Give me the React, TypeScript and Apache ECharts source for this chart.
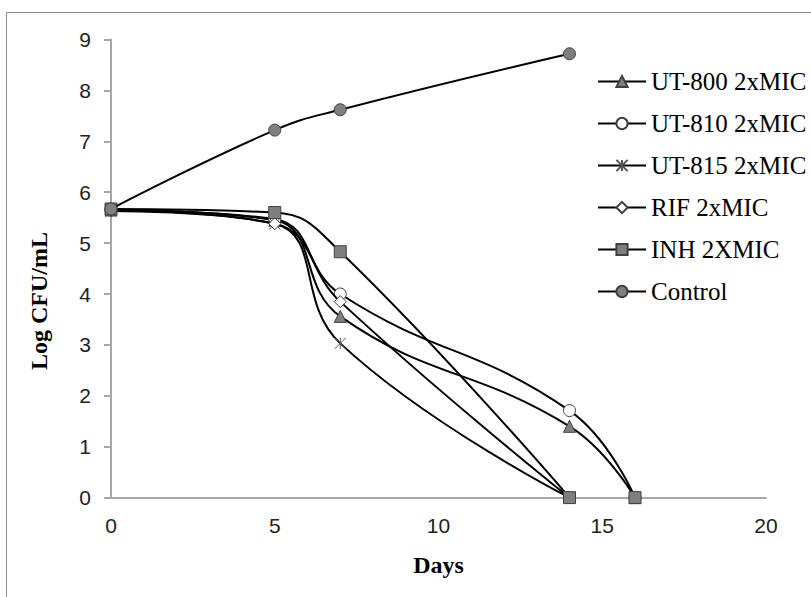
import React, { useEffect, useRef } from "react";
import * as echarts from "echarts";

// Time-kill data: Log CFU/mL against days of exposure
const seriesNames = ["UT-800 2xMIC", "UT-810 2xMIC", "UT-815 2xMIC", "RIF 2xMIC", "INH 2XMIC", "Control"];

type Pt = [number, number] | null;

const ut800: Pt[] = [[0, 5.65], [5, 5.45], [7, 3.56], [14, 1.4], [16, 0]];
const ut810: Pt[] = [[0, 5.65], [5, 5.47], [7, 4.0], [14, 1.71], [16, 0]];
const ut815: Pt[] = [[0, 5.63], [5, 5.38], [7, 3.03], [14, 0]];
const rif: Pt[] = [[0, 5.65], [5, 5.38], [7, 3.85], [14, 0]];
// INH: a lone marker also sits at day 16, not joined by the curve
const inh: Pt[] = [[0, 5.67], [5, 5.6], [7, 4.83], [14, 0], null, [16, 0]];
const control: Pt[] = [[0, 5.67], [5, 7.22], [7, 7.62], [14, 8.72]];

const xTicks = [0, 5, 10, 15, 20];
const yTicks = [0, 1, 2, 3, 4, 5, 6, 7, 8, 9];

const ASTERISK = "path://M0,0L10,10M10,0L0,10M5,0L5,10";

const GRAY = "#7f7f7f";
const EDGE = "#404040";
const SERIF = "Liberation Serif";
const SANS = "Liberation Sans";

export default function App() {
  const ref = useRef<HTMLDivElement>(null);

  useEffect(() => {
    if (!ref.current) return;
    const chart = echarts.init(ref.current, undefined, { renderer: "svg" });

    const dataSets = [ut800, ut810, ut815, rif, inh, control];
    const symbols = ["triangle", "circle", ASTERISK, "diamond", "rect", "circle"];
    const fills = [GRAY, "#ffffff", "none", "#ffffff", GRAY, GRAY];
    const sizes = [12, 12, 11, 12, 12, 12];

    const series = seriesNames.map((name, i) => ({
      name,
      type: "line",
      data: dataSets[i].map((p) => (p === null ? "-" : p)),
      smooth: 0.45,
      connectNulls: false,
      symbol: symbols[i],
      symbolSize: sizes[i],
      showAllSymbol: true,
      clip: false,
      lineStyle: { color: "#000000", width: 2 },
      itemStyle: {
        color: fills[i],
        borderColor: i === 2 ? "#555555" : EDGE,
        borderWidth: 1,
      },
      emphasis: { disabled: true },
      z: 2 + i,
    }));

    chart.setOption({
      animation: false,
      backgroundColor: "#ffffff",
      textStyle: { fontFamily: SERIF },
      grid: { left: 111, right: 45, top: 39.5, bottom: 99.4, containLabel: false },
      xAxis: {
        type: "value",
        min: xTicks[0],
        max: xTicks[xTicks.length - 1],
        interval: 5,
        name: "Days",
        nameLocation: "middle",
        nameGap: 55,
        nameTextStyle: {
          fontFamily: SERIF,
          fontWeight: "bold",
          fontSize: 24,
          color: "#000000",
        },
        axisLine: { show: true, lineStyle: { color: "#a6a6a6", width: 2 } },
        axisTick: { show: false },
        splitLine: { show: false },
        axisLabel: {
          margin: 17,
          fontFamily: SANS,
          fontSize: 21,
          color: "#222222",
        },
      },
      yAxis: {
        type: "value",
        min: yTicks[0],
        max: yTicks[yTicks.length - 1],
        interval: 1,
        axisLine: { show: true, lineStyle: { color: "#a6a6a6", width: 2 } },
        axisTick: { show: true, length: 7, lineStyle: { color: "#a6a6a6", width: 2 } },
        splitLine: { show: false },
        axisLabel: {
          margin: 20,
          fontFamily: SANS,
          fontSize: 21,
          color: "#222222",
        },
      },
      legend: {
        orient: "vertical",
        left: 597,
        top: 69,
        padding: 0,
        itemWidth: 48,
        itemHeight: 14,
        itemGap: 17,
        data: seriesNames,
        textStyle: {
          fontFamily: SERIF,
          fontSize: 25,
          lineHeight: 24,
          color: "#000000",
        },
      },
      graphic: [
        {
          type: "rect",
          shape: { x: 6.5, y: 12.5, width: 900, height: 700 },
          style: { fill: "none", stroke: "#8c8c8c", lineWidth: 1 },
          z: -10,
          silent: true,
        },
        {
          type: "text",
          x: 39,
          y: 301,
          rotation: Math.PI / 2,
          style: {
            text: "Log CFU/mL",
            fontFamily: SERIF,
            fontWeight: "bold",
            fontSize: 24,
            fill: "#000000",
            align: "center",
            verticalAlign: "middle",
          },
          silent: true,
        },
      ],
      series,
    });

    return () => chart.dispose();
  }, []);

  return (
    <div
      ref={ref}
      style={{ position: "fixed", left: 0, top: 0, width: 811, height: 597 }}
    />
  );
}
